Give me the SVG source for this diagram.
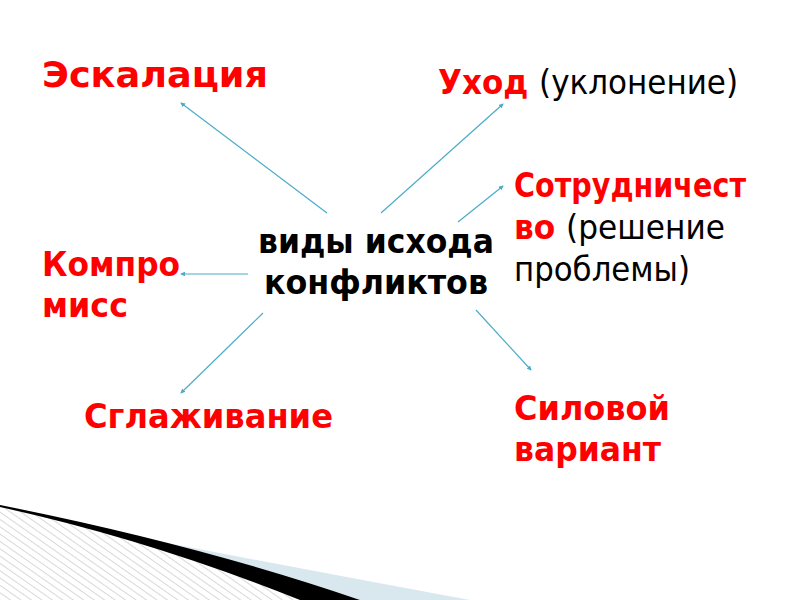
<svg xmlns="http://www.w3.org/2000/svg" width="800" height="600" viewBox="0 0 800 600">
<defs>
<style>
text{font-family:"DejaVu Sans",Verdana,sans-serif;font-size:34px}
.r{fill:#ff0000;font-weight:bold}
.b{fill:#000}
.bb{fill:#000;font-weight:bold}
.n{font-weight:normal;fill:#000}
.c{stroke:#4bacc6;stroke-width:1.2;fill:none;marker-end:url(#ah)}
</style>
<marker id="ah" viewBox="0 0 6 6" refX="5" refY="3" markerWidth="4" markerHeight="4" orient="auto">
<path d="M0,0 L6,3 L0,6 z" fill="#4bacc6"/>
</marker>
<pattern id="hatch" width="6" height="6" patternUnits="userSpaceOnUse" patternTransform="rotate(-55)">
<rect width="6" height="6" fill="#ffffff"/>
<line x1="0" y1="0" x2="0" y2="6" stroke="#d8d8d8" stroke-width="2"/>
</pattern>
</defs>
<rect width="800" height="600" fill="#ffffff"/>
<g id="decoration">
<path d="M0,506 Q150,540 300,600 L0,600 z" fill="url(#hatch)"/>
<path d="M85,527 Q280,565 470,600 L360,600 Q230,560 85,527 z" fill="#d9e8ef"/>
<path d="M0,505 Q200,545 360,600 L300,600 Q150,540 0,507 z" fill="#000"/>
</g>
<g id="connectors">
<line class="c" x1="327" y1="213" x2="181" y2="103"/>
<line class="c" x1="381" y1="213" x2="503" y2="104"/>
<line class="c" x1="458" y1="222" x2="503" y2="186"/>
<line class="c" x1="248" y1="274" x2="181" y2="274"/>
<line class="c" x1="263" y1="313" x2="181" y2="393"/>
<line class="c" x1="476" y1="310" x2="531" y2="370"/>
</g>
<g id="center">
<text class="bb" x="258" y="253" textLength="236" lengthAdjust="spacingAndGlyphs">виды исхода</text>
<text class="bb" x="264" y="294" textLength="224" lengthAdjust="spacingAndGlyphs">конфликтов</text>
</g>
<g id="escalation">
<text class="r" x="42" y="87" style="font-size:36px" textLength="226" lengthAdjust="spacingAndGlyphs">Эскалация</text>
</g>
<g id="withdrawal">
<text class="r" x="438" y="94" textLength="300" lengthAdjust="spacingAndGlyphs">Уход <tspan class="n">(уклонение)</tspan></text>
</g>
<g id="cooperation">
<text class="r" x="514" y="197" textLength="232" lengthAdjust="spacingAndGlyphs">Сотрудничест</text>
<text class="r" x="514" y="239" textLength="211" lengthAdjust="spacingAndGlyphs">во <tspan class="n">(решение</tspan></text>
<text class="b" x="514" y="281" textLength="176" lengthAdjust="spacingAndGlyphs">проблемы)</text>
</g>
<g id="compromise">
<text class="r" x="42" y="276" textLength="138" lengthAdjust="spacingAndGlyphs">Компро</text>
<text class="r" x="42" y="317" textLength="86" lengthAdjust="spacingAndGlyphs">мисс</text>
</g>
<g id="smoothing">
<text class="r" x="84" y="428" textLength="249" lengthAdjust="spacingAndGlyphs">Сглаживание</text>
</g>
<g id="force">
<text class="r" x="514" y="420" textLength="156" lengthAdjust="spacingAndGlyphs">Силовой</text>
<text class="r" x="514" y="461" textLength="147" lengthAdjust="spacingAndGlyphs">вариант</text>
</g>
</svg>
